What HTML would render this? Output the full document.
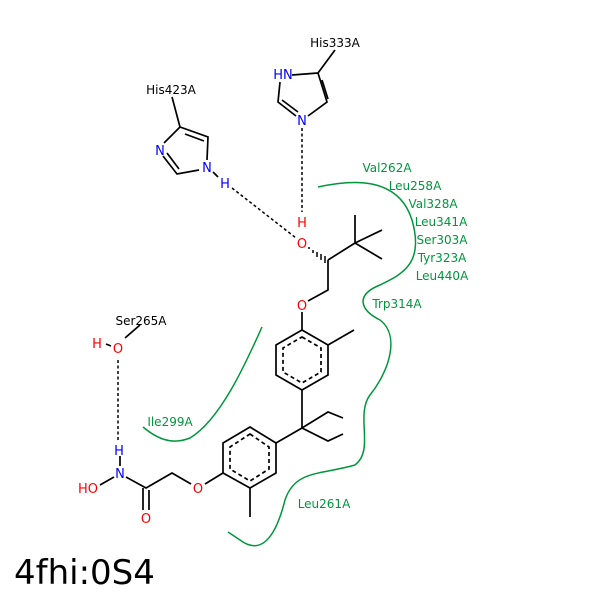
<!DOCTYPE html>
<html><head><style>body{margin:0;background:#fff}svg{display:block}</style></head><body>
<svg width="600" height="600" xmlns="http://www.w3.org/2000/svg" font-family="DejaVu Sans, Liberation Sans, sans-serif" font-size="12">
<rect width="600" height="600" fill="#fff"/>
<g stroke="#00963c" stroke-width="1.5" fill="none">
<path d="M318,187 C350,180 398,175 412,220 C425,265 400,275 380,285 C355,295 360,310 380,320 C400,335 390,370 370,395 C355,415 375,450 355,465 C320,475 295,470 285,500 C275,540 260,555 240,540 L228,532"/>
<path d="M262,327 C245,365 220,420 190,438 C170,446 155,437 143,427"/>
</g>
<g fill="#00963c" text-anchor="middle">
<text x="387" y="172">Val262A</text><text x="415" y="190">Leu258A</text><text x="433" y="208">Val328A</text><text x="441" y="226">Leu341A</text><text x="442" y="244">Ser303A</text><text x="442" y="262">Tyr323A</text><text x="442" y="280">Leu440A</text><text x="397" y="308">Trp314A</text><text x="170" y="426">Ile299A</text><text x="324" y="508">Leu261A</text>
</g>
<g stroke="#000" stroke-width="1.7" fill="none">
<path d="M318,73 L335,50 M318,73 L327,102 L308,116 M296,116 L278,102 L280,82 M292,75 L318,73 M322,80 L328,99 M282,100 L298,112"/>
<path d="M180,127 L172,97 M180,127 L208,137 L207,160 M199,170 L177,174 L163,156 M164,143 L180,127 M185,134 L204,141 M179,169 L167,153 M213,172 L218,177"/>
<path d="M328,260 L355,243 L355,215 M355,243 L382,230 M355,243 L382,259 M328,260 L328,290 L308,301 M302,312 L302,330"/>
<path d="M302,330 L328,345 L328,375 L302,390 L276,375 L276,345 Z M328,345 L354,330 M302,390 L302,428 L328,412 L343,418 M302,428 L328,441 L343,434 M302,428 L276,443"/>
<path d="M250,427 L276,443 L276,473 L250,488 L223,473 L223,443 Z M250,488 L250,517 M223,473 L205,484 M191,484 L172,473 L146,488 L126,477 M143,488 L143,510 M149,490 L149,510 M114,477 L100,485 M120,466 L120,456 M125,338 L140,325 M106,344 L111,346"/>
<g stroke-dasharray="4,3"><path d="M302,337 L321,348 L321,372 L302,383 L283,372 L283,348 Z"/><path d="M250,434 L269,447 L269,469 L250,481 L230,469 L230,447 Z"/></g>
</g>
<g stroke="#000" stroke-width="1.5">
<path d="M309,247 L309,249 M313,250 L313,253 M317,252 L317,257 M321,254 L321,260 M325,256 L325,263"/>
</g>
<g stroke="#000" stroke-width="1.5" stroke-dasharray="3,2.5" fill="none">
<path d="M302,128 L302,212"/><path d="M232,188 L296,238"/><path d="M118,360 L118,442"/>
</g>
<g text-anchor="middle">
<text x="335" y="47">His333A</text><text x="171" y="94">His423A</text><text x="141" y="325">Ser265A</text>
<g fill="#00f" font-size="13"><text x="283" y="79">HN</text><text x="302" y="125">N</text><text x="160" y="155">N</text><text x="207" y="172">N</text><text x="225" y="188">H</text><text x="119" y="455">H</text><text x="120" y="478">N</text></g>
<g fill="#f00" font-size="13"><text x="302" y="227">H</text><text x="302" y="248">O</text><text x="302" y="310">O</text><text x="198" y="493">O</text><text x="146" y="523">O</text><text x="88" y="493">HO</text><text x="118" y="353">O</text><text x="97" y="348">H</text></g>
</g>
<text x="14" y="584" font-size="34" font-family="DejaVu Sans, sans-serif">4fhi:0S4</text>
</svg>
</body></html>
